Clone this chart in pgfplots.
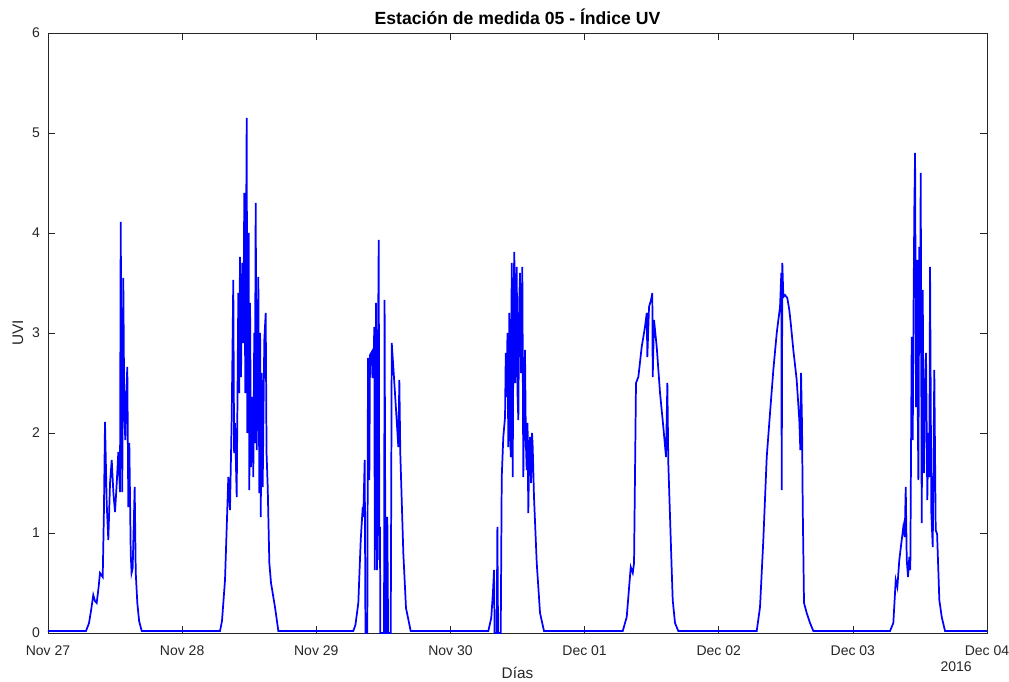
\documentclass[border=0pt]{standalone}
\usepackage{fontspec}
\setmainfont{Liberation Sans}
\usepackage{pgfplots}
\pgfplotsset{compat=1.18}
\definecolor{axgray}{RGB}{38,38,38}
\definecolor{mblue}{RGB}{0,0,255}
\begin{document}
\begin{tikzpicture}
\begin{axis}[
  scale only axis, width=704.25pt, height=450pt,
  xmin=0, xmax=168, ymin=0, ymax=6,
  xtick={0,24,48,72,96,120,144,168},
  xticklabels={Nov 27,Nov 28,Nov 29,Nov 30,Dec 01,Dec 02,Dec 03,Dec 04},
  ytick={0,1,2,3,4,5,6},
  tick align=inside, major tick length=5pt,
  axis line style={axgray, line width=0.5pt},
  every tick/.style={axgray, line width=0.5pt},
  tick label style={font=\fontsize{10.5}{12}\selectfont, text=axgray},
  xticklabel style={yshift=-6pt},
  yticklabel style={xshift=-2.5pt},
  /pgf/number format/assume math mode=true,
  title={\textbf{Estación de medida 05 - Índice UV}},
  title style={font=\fontsize{13.2}{15}\selectfont, text=black, at={(axis description cs:0.5,1)}, anchor=south, yshift=-3pt},
  xlabel={Días}, ylabel={UVI},
  xlabel style={font=\fontsize{11.5}{13}\selectfont, text=axgray, inner sep=0pt, at={(axis description cs:0.5,-0.0567)}, anchor=north},
  ylabel style={font=\fontsize{11.5}{13}\selectfont, text=axgray, inner sep=0pt, at={(axis description cs:-0.0261,0.5)}, anchor=south},
]
\addplot[mblue, line width=1.3pt] coordinates {
(0,0.02) (6.8,0.02) (7.34,0.1) (7.69,0.22) (8.1,0.38) (8.4,0.32) (8.71,0.30) (9.04,0.45) (9.3,0.6) (9.79,0.56) (10.0,1.2) (10.2,2.11) (10.5,1.3) (10.79,0.93) (11.1,1.5) (11.4,1.73) (11.7,1.4) (11.99,1.21) (12.3,1.5) (12.58,1.81) (12.88,1.41) (13.01,4.11) (13.15,2.5) (13.29,1.41) (13.47,3.55) (13.65,2.2) (13.83,1.93) (14.0,2.4) (14.19,2.66) (14.37,1.26) (14.55,1.9) (14.8,0.8) (14.95,0.6) (15.15,0.65) (15.51,1.46) (15.7,0.6) (15.98,0.30) (16.3,0.12) (16.77,0.02)
(30.77,0.02) (31.13,0.12) (31.67,0.53) (32.0,1.1) (32.26,1.56) (32.56,1.23) (32.87,2.16) (33.15,3.53) (33.3,1.8) (33.46,2.1) (33.76,1.36) (34.05,3.4) (34.2,2.4) (34.35,3.76) (34.53,2.56) (34.76,3.7) (34.95,2.9) (35.12,4.4) (35.3,2.4) (35.55,5.15) (35.66,2.0) (35.91,4.0) (36.02,1.43) (36.15,3.3) (36.32,1.66) (36.55,2.36) (36.73,1.56) (36.9,3.0) (37.0,1.9) (37.16,4.3) (37.34,1.83) (37.63,3.56) (37.81,1.4) (37.95,3.0) (38.06,1.16) (38.25,2.6) (38.41,1.46) (38.70,2.93) (38.95,3.2) (39.1,1.8) (39.31,1.46) (39.60,0.7) (39.90,0.5) (40.61,0.26) (41.21,0.02)
(54.62,0.02) (55.0,0.08) (55.52,0.30) (55.95,0.93) (56.31,1.26) (56.41,1.16) (56.66,1.73) (56.8,0) (57.13,0) (57.25,2.75) (57.49,1.53) (57.61,2.78) (57.92,2.81) (58.05,2.55) (58.20,2.6) (58.38,3.06) (58.47,0.63) (58.56,2.0) (58.69,3.3) (58.86,0.63) (59.0,2.5) (59.17,3.93) (59.28,0.73) (59.40,1.06) (59.45,0) (60.12,0) (60.22,3.33) (60.4,0) (60.62,0) (60.71,1.16) (60.85,0) (61.32,0) (61.5,2.9) (62.08,2.4) (62.68,1.86) (62.86,2.53) (63.03,1.8) (63.57,0.8) (64.05,0.25) (64.89,0.02)
(78.78,0.02) (79.3,0.15) (79.6,0.4) (79.8,0.63) (79.9,0) (80.28,0) (80.4,1.06) (80.52,0) (81.0,0) (81.18,1.56) (81.46,1.96) (81.77,2.16) (81.9,2.8) (82.07,2.36) (82.2,3.0) (82.36,1.86) (82.54,3.2) (82.65,2.2) (82.79,1.76) (82.97,3.7) (83.14,1.56) (83.3,3.4) (83.43,3.81) (83.61,2.5) (83.75,3.3) (83.86,3.66) (84.0,2.4) (84.15,2.13) (84.3,3.3) (84.45,3.6) (84.63,2.6) (84.86,3.66) (85.04,1.56) (85.2,2.4) (85.34,2.83) (85.5,1.9) (85.65,1.63) (85.8,2.1) (85.93,1.2) (86.1,1.8) (86.24,1.96) (86.42,1.5) (86.6,2.0) (86.72,1.86) (86.95,1.36) (87.44,0.7) (88.03,0.2) (88.74,0.02)
(102.83,0.02) (103.54,0.16) (104.26,0.66) (104.62,0.6) (104.85,0.7) (105.20,2.5) (105.62,2.56) (106.22,2.86) (106.81,3.06) (107.12,3.2) (107.23,2.76) (107.53,3.26) (107.89,3.33) (108.12,3.4) (108.19,2.56) (108.43,3.13) (108.91,2.86) (109.50,2.4) (110.09,2.06) (110.57,1.76) (110.81,2.5) (110.98,1.7) (111.29,1.16) (111.59,0.63) (111.77,0.33) (112.18,0.1) (112.77,0.02)
(126.80,0.02) (127.39,0.26) (127.98,0.93) (128.59,1.76) (129.18,2.2) (129.77,2.63) (130.38,3.0) (130.67,3.13) (130.97,3.26) (131.20,3.6) (131.27,1.43) (131.38,3.7) (131.56,3.36) (131.86,3.38) (132.27,3.35) (132.63,3.23) (132.88,3.1) (133.35,2.83) (133.95,2.53) (134.42,2.13) (134.60,1.83) (134.73,2.6) (134.91,2.06) (135.03,1.26) (135.26,0.3) (135.74,0.2) (136.34,0.1) (136.93,0.02)
(150.65,0.02) (151.24,0.1) (151.67,0.53) (151.96,0.46) (152.31,0.73) (152.74,0.93) (153.03,1.06) (153.28,0.96) (153.46,1.46) (153.64,0.73) (153.87,0.56) (154.10,0.76) (154.28,0.63) (154.53,2.96) (154.71,1.93) (154.85,3.2) (155.00,4.26) (155.13,4.8) (155.30,2.26) (155.42,3.3) (155.54,3.73) (155.63,2.1) (155.72,1.53) (155.89,3.86) (156.0,2.8) (156.14,4.6) (156.32,1.1) (156.50,3.43) (156.62,2.3) (156.73,1.6) (156.9,2.4) (157.09,2.8) (157.32,1.33) (157.5,2.0) (157.68,1.56) (157.81,3.66) (158.04,1.2) (158.29,0.86) (158.57,2.63) (158.82,1.03) (159.07,0.99) (159.47,0.33) (159.90,0.16) (160.49,0.02) (168,0.02)
};
\end{axis}
\node[anchor=north east, inner sep=0pt, font=\fontsize{10.5}{12}\selectfont, text=axgray] at ([xshift=-11.25pt,yshift=-21pt]current axis.south east) {2016};
\pgfresetboundingbox
\path[use as bounding box] ([xshift=-36pt,yshift=-36pt]current axis.south west) rectangle ([xshift=16.5pt,yshift=24.75pt]current axis.north east);
\end{tikzpicture}
\end{document}
